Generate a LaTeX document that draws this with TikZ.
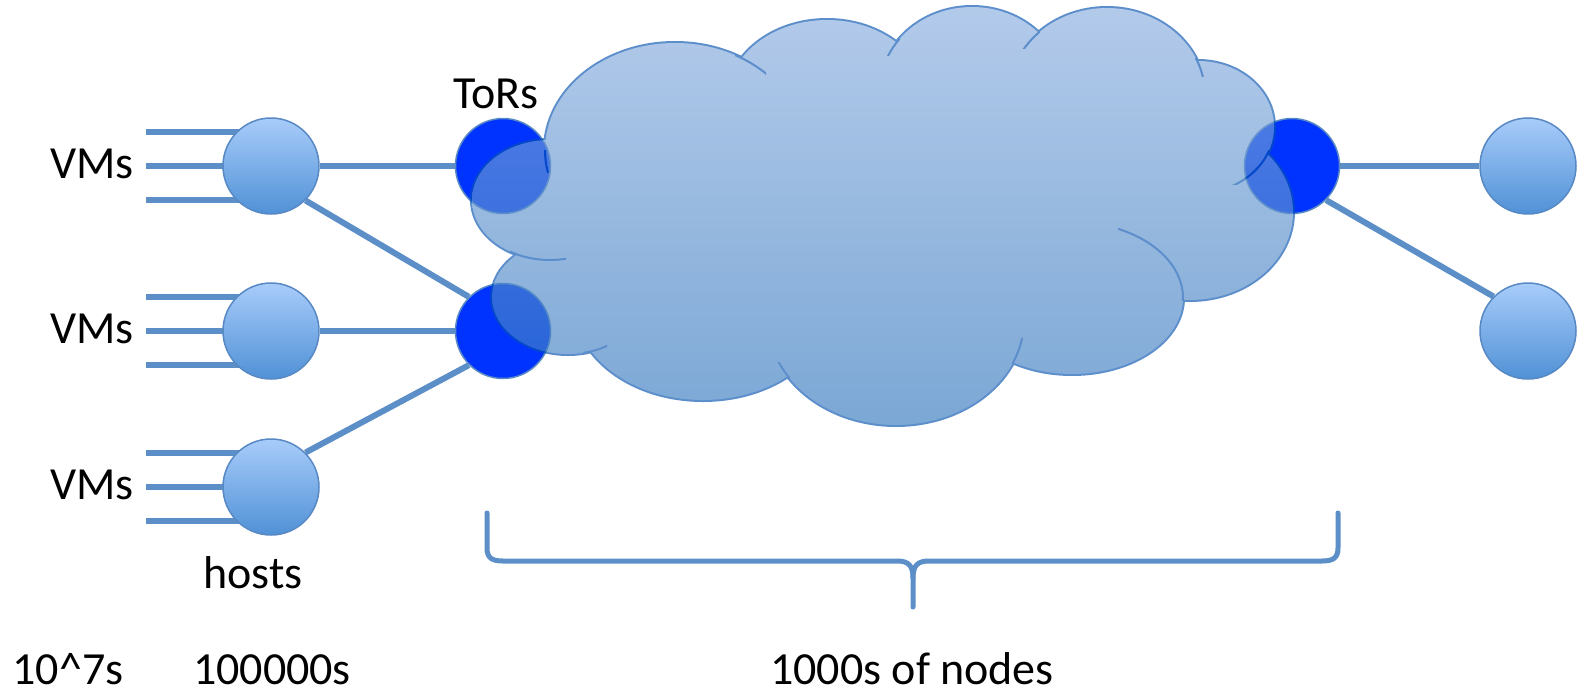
\documentclass[tikz,border=0pt]{standalone}
\usepackage{fontspec}
\setmainfont{Carlito}
\usetikzlibrary{calc}
\pgfdeclarelayer{bg}
\pgfsetlayers{bg,main}
\definecolor{linec}{RGB}{92,143,199}
\definecolor{torc}{RGB}{0,51,255}
\definecolor{hostedge}{RGB}{88,137,196}
\definecolor{hosttop}{RGB}{168,204,250}
\definecolor{hostbot}{RGB}{80,145,214}
\definecolor{cloudtop}{RGB}{138,174,223}
\definecolor{cloudbot}{RGB}{52,120,190}
\definecolor{cloudedge}{RGB}{5,82,175}
\newcommand\cloudlobes{%
 (675,150) ellipse [x radius=130pt, y radius=107pt]
 (827,100) ellipse [x radius=100pt, y radius=80pt]
 (972,90) ellipse [x radius=92pt, y radius=83pt]
 (1107,95) ellipse [x radius=98pt, y radius=87pt]
 (1198,127) ellipse [x radius=76pt, y radius=66pt]
 (1190,212) ellipse [x radius=103pt, y radius=88pt]
 (1072,298) ellipse [x radius=111pt, y radius=76pt]
 (896,320) ellipse [x radius=128pt, y radius=105pt]
 (703,305) ellipse [x radius=128pt, y radius=95pt]
 (568,297) ellipse [x radius=76pt, y radius=57pt]
 (550,200) ellipse [x radius=78pt, y radius=60pt]}
\newcommand\cloudfill{\cloudlobes (880,215) ellipse [x radius=300pt, y radius=145pt]}
\newcommand\innerarc[4]{\begin{scope}\clip #1 rectangle #2; \draw[arcline] #3 ellipse [#4];\end{scope}}
\begin{document}
\begin{tikzpicture}[x=1pt,y=-1pt,
  txt/.style={font=\fontsize{46pt}{50pt}\selectfont, inner sep=0pt, anchor=base},
  host/.style={circle, inner sep=0pt, minimum size=96pt, draw=hostedge, line width=1.5pt, top color=hosttop, bottom color=hostbot},
  tor/.style={circle, inner sep=0pt, minimum size=95pt, draw=hostedge, line width=1.5pt, fill=torc},
  link/.style={draw=linec, line width=6pt},
  vmline/.style={draw=linec, line width=6pt},
  bracel/.style={draw=linec, line width=5pt, line join=round, line cap=round},
  arcline/.style={draw=cloudedge, line width=2pt}]
\useasboundingbox (0,0) rectangle (1577,694);

% hosts and ToRs
\node[host] (h1) at (271,166) {};
\node[host] (h2) at (271,331) {};
\node[host] (h3) at (271,487) {};
\node[tor] (t1) at (503,166) {};
\node[tor] (t2) at (503,331) {};
\node[tor] (tr) at (1292,166) {};
\node[host] (hr1) at (1528,166) {};
\node[host] (hr2) at (1528,331) {};

% links
\begin{pgfonlayer}{bg}
\foreach \h in {h1,h2,h3}{
  \foreach \d in {-34,0,34}{
    \draw[vmline] ($(\h)+(-125,\d)$) -- ($(\h)+(0,\d)$);
  }
}
\draw[link] (h1) -- (t1);
\draw[link] (h2) -- (t2);
\draw[link] (h1.-45) -- (t2.135);
\draw[link] (h3.45) -- (t2.225);
\draw[link] (tr) -- (hr1);
\draw[link] (tr.-45) -- (hr2.135);
\end{pgfonlayer}

% cloud
\begin{scope}[transparency group, opacity=0.65]
  \draw[cloudedge, line width=4pt] \cloudlobes;
  \shade[top color=cloudtop, bottom color=cloudbot] \cloudfill;
  \innerarc{(735,50)}{(766,76)}{(675,150)}{x radius=130pt, y radius=107pt}
  \innerarc{(540,150)}{(556,172)}{(675,150)}{x radius=130pt, y radius=107pt}
  \innerarc{(885,38)}{(900,55)}{(972,90)}{x radius=92pt, y radius=83pt}
  \innerarc{(1020,28)}{(1040,48)}{(1107,95)}{x radius=98pt, y radius=87pt}
  \innerarc{(1195,58)}{(1210,76)}{(1107,95)}{x radius=98pt, y radius=87pt}
  \innerarc{(1232,150)}{(1272,184)}{(1198,127)}{x radius=76pt, y radius=66pt}
  \innerarc{(1118,222)}{(1186,300)}{(1072,298)}{x radius=111pt, y radius=76pt}
  \innerarc{(1012,338)}{(1024,364)}{(896,320)}{x radius=128pt, y radius=105pt}
  \innerarc{(770,362)}{(790,386)}{(896,320)}{x radius=128pt, y radius=105pt}
  \innerarc{(583,335)}{(607,352)}{(568,297)}{x radius=76pt, y radius=57pt}
  \innerarc{(510,245)}{(566,264)}{(550,200)}{x radius=78pt, y radius=60pt}
\end{scope}

% brace
\coordinate (bl) at (487,513);
\coordinate (br) at (1338,513);
\coordinate (bt) at (913,607);
\draw[bracel] (bl) -- (487,548) .. controls (487,558) and (492,561) .. (503,561) -- (897,561) .. controls (908,561) and (913,565) .. (913,578) -- (bt);
\draw[bracel] (br) -- (1338,548) .. controls (1338,558) and (1333,561) .. (1322,561) -- (929,561) .. controls (918,561) and (913,565) .. (913,578);

% labels
\node[txt] (vm1) at (92,178) {VMs};
\node[txt] (vm2) at (92,343) {VMs};
\node[txt] (vm3) at (92,499) {VMs};
\node[txt] (torl) at (496,108) {ToRs};
\node[txt] (hostl) at (253,588) {hosts};
\node[txt] (n1) at (68,684) {10{\char"5E}7s};
\node[txt] (n2) at (272,684) {100000s};
\node[txt] (n3) at (912,684) {1000s of nodes};
\end{tikzpicture}
\end{document}
